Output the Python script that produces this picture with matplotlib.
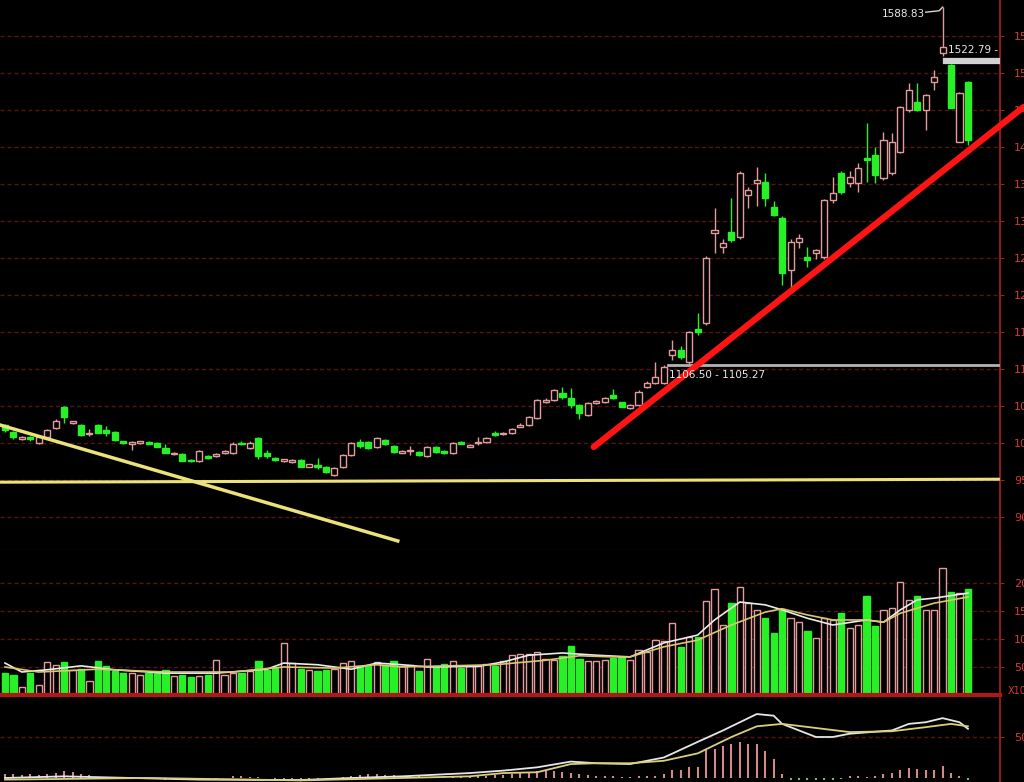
import matplotlib.pyplot as plt
from matplotlib.patches import Rectangle

# candle data (price), oldest first
opens = [1024, 1015, 1006, 1008, 1000, 1008, 1020, 1049, 1027, 1024,
         1012, 1024, 1018, 1015, 1002, 999, 1000, 1001, 1000, 993,
         985, 985, 977, 975, 983, 982, 986, 986, 1000, 993,
         1007, 986, 980, 975, 974, 977, 968, 970, 968, 957,
         968, 984, 1001, 1001, 995, 1004, 996, 987, 989, 988,
         982, 995, 989, 986, 1001, 995, 1000, 1001, 1014, 1012,
         1013, 1022, 1024, 1034, 1055, 1058, 1068, 1061, 1051, 1038,
         1054, 1055, 1065, 1055, 1047, 1051, 1076, 1081, 1081, 1119,
         1126, 1109, 1154, 1162, 1284, 1265, 1285, 1278, 1335, 1351,
         1353, 1319, 1304, 1234, 1272, 1251, 1257, 1251, 1328, 1365,
         1351, 1351, 1385, 1389, 1358, 1365, 1393, 1450, 1461, 1450,
         1488, 1527, 1511, 1407, 1488]
closes = [1017, 1008, 1007, 1005, 1008, 1018, 1030, 1035, 1029, 1011,
          1014, 1014, 1013, 1004, 1000, 1001, 1002, 999, 995, 987,
          987, 976, 975, 989, 980, 985, 989, 999, 998, 1000,
          983, 983, 977, 978, 977, 968, 971, 967, 961, 966,
          984, 1000, 996, 993, 1007, 999, 988, 989, 991, 984,
          995, 988, 986, 1000, 999, 997, 1001, 1007, 1011, 1013,
          1019, 1024, 1035, 1058, 1058, 1072, 1062, 1051, 1041, 1054,
          1057, 1061, 1061, 1049, 1051, 1069, 1081, 1089, 1103, 1126,
          1116, 1150, 1150, 1250, 1288, 1270, 1274, 1365, 1342, 1355,
          1331, 1308, 1230, 1272, 1277, 1247, 1261, 1328, 1338, 1339,
          1359, 1372, 1382, 1362, 1409, 1407, 1454, 1477, 1450, 1470,
          1494, 1535, 1453, 1473, 1409]
highs = [1026, 1016, 1009, 1010, 1009, 1019, 1032, 1050, 1030, 1025,
         1019, 1025, 1023, 1016, 1003, 1002, 1003, 1002, 1001, 999,
         988, 986, 978, 990, 984, 986, 990, 1001, 1003, 1002,
         1008, 990, 981, 979, 978, 978, 972, 980, 969, 967,
         985, 1001, 1005, 1002, 1008, 1005, 997, 990, 996, 989,
         996, 996, 990, 1001, 1003, 998, 1008, 1008, 1016, 1015,
         1020, 1027, 1036, 1059, 1061, 1073, 1076, 1074, 1052, 1055,
         1058, 1062, 1073, 1056, 1052, 1071, 1084, 1110, 1106, 1139,
         1131, 1151, 1176, 1252, 1318, 1276, 1331, 1367, 1346, 1373,
         1365, 1327, 1306, 1276, 1283, 1265, 1262, 1330, 1360, 1367,
         1367, 1378, 1432, 1400, 1420, 1419, 1455, 1486, 1486, 1472,
         1504, 1588.83, 1512, 1474, 1489]
lows = [1015, 1006, 1004, 1003, 999, 1007, 1019, 1027, 1026, 1010,
        1009, 1013, 1010, 1003, 998, 991, 999, 998, 994, 986,
        984, 975, 974, 974, 979, 981, 985, 985, 997, 992,
        979, 980, 976, 974, 973, 967, 967, 965, 959, 955,
        966, 982, 993, 992, 993, 997, 987, 986, 984, 983,
        981, 987, 985, 985, 998, 994, 997, 1000, 1010, 1011,
        1012, 1021, 1023, 1033, 1054, 1057, 1060, 1047, 1033, 1037,
        1053, 1054, 1060, 1048, 1046, 1050, 1074, 1080, 1080, 1112,
        1114, 1107, 1146, 1160, 1256, 1257, 1272, 1276, 1318, 1320,
        1320, 1306, 1214, 1207, 1263, 1238, 1249, 1249, 1324, 1337,
        1346, 1339, 1353, 1351, 1355, 1362, 1392, 1447, 1449, 1423,
        1477, 1522.79, 1452, 1406, 1403]

# volume (x100)
volumes = [39, 36, 14, 39, 18, 58, 54, 58, 45, 46,
           25, 61, 51, 42, 39, 39, 36, 40, 39, 45,
           33, 36, 32, 33, 36, 62, 36, 39, 39, 42,
           60, 45, 48, 93, 57, 46, 45, 42, 45, 46,
           57, 60, 52, 51, 58, 54, 60, 51, 54, 42,
           64, 51, 55, 61, 48, 51, 51, 55, 51, 61,
           71, 74, 74, 77, 65, 62, 70, 88, 64, 60,
           60, 62, 66, 68, 62, 80, 77, 99, 97, 129,
           85, 103, 103, 167, 190, 125, 165, 193, 164, 152,
           137, 111, 153, 137, 131, 115, 101, 137, 134, 146,
           119, 125, 177, 123, 152, 155, 202, 170, 177, 152,
           152, 226, 184, 182, 189]

# volume moving average lines, read at a few points
ma5_idx = [0, 2, 5, 9, 13, 19, 25, 31, 33, 37, 41, 44, 47, 50, 56, 59, 62, 66,
           70, 74, 78, 82, 84, 87, 90, 92, 95, 98, 102, 104, 106, 108, 110, 114]
ma5_vals = [57, 41, 45, 52, 45, 39, 39, 46, 57, 54, 46, 57, 54, 50, 51, 59, 71, 75,
            71, 68, 93, 107, 134, 166, 161, 152, 137, 125, 134, 130, 152, 170, 173, 182]
ma10_idx = [0, 4, 11, 19, 27, 33, 39, 44, 47, 58, 64, 68, 72, 74, 78, 82, 86,
            90, 92, 95, 98, 102, 104, 106, 110, 114]
ma10_vals = [50, 41, 46, 41, 41, 50, 48, 54, 50, 54, 62, 70, 68, 68, 86, 98, 125,
             148, 154, 143, 134, 134, 130, 146, 164, 175]

# MACD panel
dif_idx = [0, 7, 23, 35, 41, 47, 55, 59, 63, 67, 70, 74, 78, 82, 85, 87, 89, 91,
           92, 94, 96, 98, 100, 105, 107, 109, 111, 113, 114]
dif_vals = [0, 2, -2, -2.5, 0, 2, 6, 9, 13, 20, 18, 17, 25, 44, 58, 68, 78, 76,
            66, 58, 50, 50, 54, 58, 66, 68, 73, 68, 60]
dea_idx = [0, 17, 35, 47, 55, 59, 63, 67, 70, 74, 78, 82, 86, 89, 92, 96, 100,
           105, 109, 112, 114]
dea_vals = [-2, 0, -3, 0, 2, 6, 7, 17, 18, 18, 21, 30, 50, 63, 66, 61, 56,
            57, 62, 66, 63]
macd_hist = [5, 5, 4, 5, 4, 5, 6, 8, 7, 5, 4,
             1, 1, 0, -1, -1, -1, -1, -1, -2, -2, -2, -2, -1, -1, -1, 0,
             2, 2, 1, 1, 0,
             -1, -1, -1, -1, -1, -1, -1, 0, 1,
             3, 4, 5, 5, 4, 4, 3, 2, 2,
             1, 1, 1, 2, 2, 3, 3, 3, 4, 4,
             5, 6, 7, 8, 8, 8, 7, 6, 5, 4, 3, 2, 2, 1, 1, 2,
             3, 3, 5, 10, 10, 13, 14, 35, 35, 39, 42, 44, 42, 42, 33, 23, 5,
             -3, -3, -3, -3, -3, -2, -1,
             2, 2, 1, 3, 5, 6, 10, 12, 11, 10, 10, 15, 6, 2, -2]

price_ticks = [900, 950, 1000, 1050, 1100, 1150, 1200, 1250, 1300, 1350,
               1400, 1450, 1500, 1550]
vol_ticks = [50, 100, 150, 200]
macd_ticks = [50]

UP = '#e39c9c'
DOWN = '#27f027'
GRID = '#561414'
AXIS = '#a01c1c'
LABEL = '#d83a3a'
XLIM = (-0.59, 117.8)

fig = plt.figure(figsize=(10.24, 7.82), dpi=100, facecolor='black')
ax = fig.add_axes([0, 0.2967, 0.9766, 0.7033])
axv = fig.add_axes([0, 0.1113, 0.9766, 0.1854])
axm = fig.add_axes([0, 0, 0.9766, 0.1087])

for a in (ax, axv, axm):
    a.set_facecolor('black')
    a.set_xlim(*XLIM)
    a.set_xticks([])
    a.yaxis.tick_right()
    a.tick_params(axis='y', colors=AXIS, labelcolor=LABEL, labelsize=8,
                  length=3, pad=7)
    a.grid(axis='y', color=GRID, lw=1, ls=(0, (3, 2)))
    a.set_axisbelow(True)
    for s in a.spines.values():
        s.set_visible(False)
    a.spines['right'].set_visible(True)
    a.spines['right'].set_color(AXIS)
    a.spines['right'].set_linewidth(1.3)

# ---- price panel
ax.set_ylim(855.4, 1598.5)
ax.set_yticks(price_ticks)
ax.spines['bottom'].set_visible(True)
ax.spines['bottom'].set_color(AXIS)

w = 0.72
for i in range(len(opens)):
    o, c, h, l = opens[i], closes[i], highs[i], lows[i]
    up = c >= o
    col = UP if up else DOWN
    ax.vlines(i, l, h, color=col, lw=1, zorder=2)
    body = max(abs(c - o), 1.5)
    ax.add_patch(Rectangle((i - w / 2, min(o, c)), w, body,
                           facecolor='black' if up else DOWN,
                           edgecolor=col, lw=1, zorder=3))

# trend lines
ax.plot([-0.59, 117.6], [947, 951], color='#ece27a', lw=2.2, zorder=4)
ax.plot([-0.59, 46.5], [1024.3, 867.6], color='#ece27a', lw=2.5, zorder=4)
ax.plot([69.7, 120.6], [994.6, 1454], color='#ff1414', lw=4.5, zorder=5,
        clip_on=False, solid_capstyle='round')

# price markers
ax.plot([78.5, 117.6], [1105.27, 1105.27], color='#b4b4b4', lw=2, zorder=4)
ax.text(78.6, 1099, '1106.50 - 1105.27', color='#e8e8e8', fontsize=7.5,
        va='top', ha='left', zorder=6)
ax.plot([109.0, 110.6, 111], [1582, 1584, 1588.83], color='#d8d8d8', lw=1, zorder=4)
ax.text(108.9, 1580, '1588.83', color='#e8e8e8', fontsize=7.5,
        va='center', ha='right')
ax.plot([111.4, 117.6], [1516.7, 1516.7], color='#d2d2d2', lw=4.5, zorder=4)
ax.text(111.6, 1531, '1522.79 -', color='#e8e8e8', fontsize=7.5,
        va='center', ha='left')

# ---- volume panel
axv.set_ylim(0, 259)
axv.set_yticks(vol_ticks)
axv.spines['bottom'].set_visible(True)
axv.spines['bottom'].set_color('#b01818')
axv.spines['bottom'].set_linewidth(3)
for i, v in enumerate(volumes):
    up = closes[i] >= opens[i]
    axv.bar(i, v, width=0.74, facecolor='black' if up else DOWN,
            edgecolor=UP if up else DOWN, lw=1, zorder=2)
axv.plot(ma5_idx, ma5_vals, color='#ececec', lw=1.2, zorder=3)
axv.plot(ma10_idx, ma10_vals, color='#d9c672', lw=1.2, zorder=3)
fig.text(1008 / 1024, 0.117, 'X100', color=LABEL, fontsize=7, va='center')

# ---- MACD panel
axm.set_ylim(-4.9, 98.8)
axm.set_yticks(macd_ticks)
for i, hv in enumerate(macd_hist):
    axm.vlines(i, 0, hv, color='#d08a8a' if hv >= 0 else '#6cc06c', lw=1.5, zorder=2)
axm.plot(dif_idx, dif_vals, color='#e6e6e6', lw=1.3, zorder=3)
axm.plot(dea_idx, dea_vals, color='#d8d07c', lw=1.3, zorder=3)

plt.savefig('out.png', dpi=100, facecolor='black')
